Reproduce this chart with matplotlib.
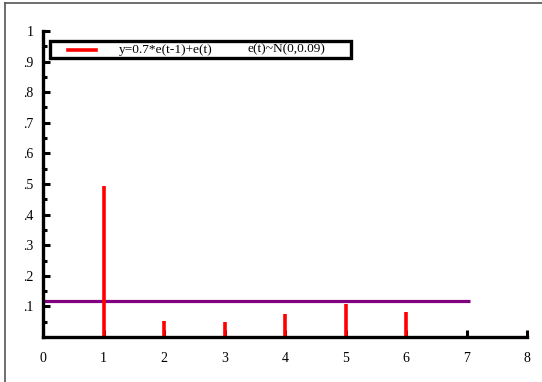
import matplotlib
matplotlib.use("Agg")
import matplotlib.pyplot as plt
from matplotlib.lines import Line2D
from matplotlib.patches import Rectangle
import numpy as np

lags = [1, 2, 3, 4, 5, 6]
acf = [0.495, 0.052, 0.048, 0.074, 0.108, 0.082]
bound_x = [0, 7.05]
bound_y = [0.118, 0.118]
xticks = [0, 1, 2, 3, 4, 5, 6, 7, 8]
yticks = [0.1, 0.2, 0.3, 0.4, 0.5, 0.6, 0.7, 0.8, 0.9, 1.0]
ytick_labels = [".1", ".2", ".3", ".4", ".5", ".6", ".7", ".8", ".9", "1"]
legend_label1 = "y=0.7*e(t-1)+e(t)"
legend_label2 = "e(t)~N(0,0.09)"

plt.rcParams['font.family'] = ['Liberation Serif', 'DejaVu Serif']

W, H = 542, 382
fig = plt.figure(figsize=(W / 100, H / 100), dpi=100)
ax = fig.add_axes([43 / W, (H - 337) / H, 484 / W, 306 / H])
ax.set_xlim(0, 8)
ax.set_ylim(0, 1)

ax.vlines(lags, 0, acf, colors='#ff0000', linewidth=2.6, zorder=3)
ax.plot(bound_x, bound_y, color='#800080', linewidth=2.3, zorder=2, solid_capstyle='butt')

for s in ['top', 'right']:
    ax.spines[s].set_visible(False)
for s in ['left', 'bottom']:
    ax.spines[s].set_linewidth(2.4)
    ax.spines[s].set_color('black')
    ax.spines[s].set_zorder(4)

ax.set_xticks(xticks)
ax.set_xticklabels([str(v) for v in xticks])
ax.set_yticks(yticks)
ax.set_yticklabels(ytick_labels)
ax.set_yticks(np.arange(0.05, 1.0, 0.1), minor=True)
ax.tick_params(axis='both', which='major', direction='in', length=5, width=2.2,
               labelsize=10, colors='black')
ax.tick_params(axis='y', which='major', pad=7)
ax.tick_params(axis='x', which='major', pad=11)
ax.tick_params(axis='y', which='minor', direction='in', length=3, width=2.2)

# legend box
x0 = (50 - 43) / 484
x1 = (351 - 43) / 484
y0 = (337 - 58) / 306
y1 = (337 - 41) / 306
ax.add_patch(Rectangle((x0, y0), x1 - x0, y1 - y0, transform=ax.transAxes,
                       facecolor='white', edgecolor='black', linewidth=2.4,
                       clip_on=False, zorder=5))
ym = (y0 + y1) / 2
ax.add_line(Line2D([(68 - 43) / 484, (96 - 43) / 484], [ym, ym], transform=ax.transAxes,
                   color='#ff0000', linewidth=2.6, clip_on=False, zorder=6))
ax.text((119 - 43) / 484, ym, legend_label1, transform=ax.transAxes, fontsize=9.6,
        va='center', ha='left', zorder=6)
ax.text((247 - 43) / 484, ym, legend_label2, transform=ax.transAxes, fontsize=9.6,
        va='center', ha='left', zorder=6)

# outer frame (top and left edges)
fig.add_artist(Line2D([5 / W, 1], [1 - 3 / H, 1 - 3 / H], transform=fig.transFigure,
                      color='#555555', linewidth=1.2))
fig.add_artist(Line2D([5 / W, 5 / W], [0, 1 - 3 / H], transform=fig.transFigure,
                      color='#555555', linewidth=1.2))

fig.savefig('out.png', dpi=100)
